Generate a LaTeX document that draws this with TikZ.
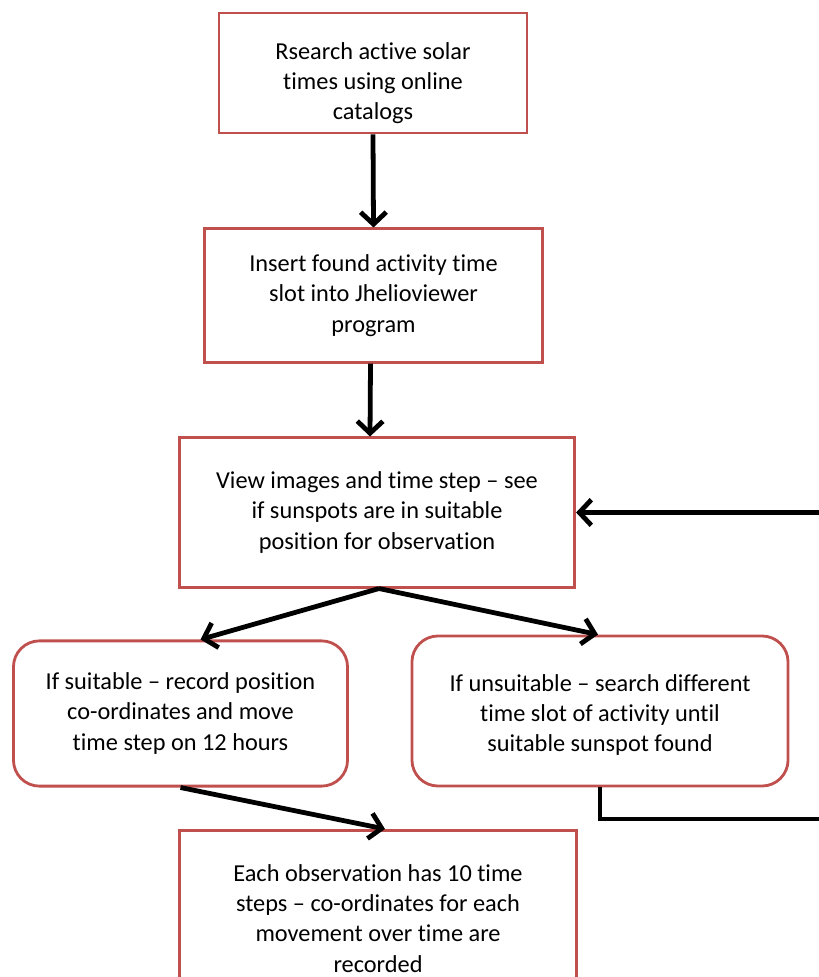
\documentclass[tikz,border=0pt]{standalone}
\usepackage{fontspec}
\setmainfont{Carlito}[Ligatures=NoCommon]
\definecolor{BoxRed}{RGB}{192,80,77}
\usetikzlibrary{positioning, arrows.meta, calc}

\tikzset{
  stepbox/.style={draw=BoxRed, line width=2pt, fill=white, align=center, inner sep=0pt,
    font=\fontsize{17.3}{21.5}\selectfont},
  roundbox/.style={stepbox, rounded corners=0.65cm},
  flow/.style={line width=3.4pt, -{Straight Barb[length=3mm,width=6.4mm]}}
}

\begin{document}
\begin{tikzpicture}[x=0.025cm,y=-0.025cm]
          \useasboundingbox (0,0) rectangle (818,977);

          % main chain
          \node[stepbox, minimum width=7.7cm, minimum height=3cm] (research) at (373,73)
            {\\[5pt]Rsearch active solar\\times using online\\catalogs};
          \node[stepbox, minimum width=8.43cm, minimum height=3.33cm] (insert) at (373.5,295.5)
            {Insert found activity time\\slot into Jhelioviewer\\program};
          \node[stepbox, minimum width=9.88cm, minimum height=3.73cm] (view) at (377,512.5)
            {View images and time step -- see\\if sunspots are in suitable\\position for observation};

          % the two outcomes
          \node[roundbox, minimum width=8.35cm, minimum height=3.63cm] (suitable) at (180.5,713.5)
            {If suitable -- record position\\co-ordinates and move\\time step on 12 hours};
          \node[roundbox, minimum width=9.4cm, minimum height=3.75cm] (unsuitable) at (600,711)
            {\\[-4pt]If unsuitable -- search different\\time slot of activity until\\suitable sunspot found};

          \node[stepbox, anchor=north, minimum width=9.93cm, minimum height=4.4cm] (record) at (378,829)
            {Each observation has 10 time\\steps -- co-ordinates for each\\movement over time are\\recorded};

          \draw[flow] (research.south) -- (insert.north);
          \draw[flow] ($(insert.south)+(-3,0)$) -- ($(view.north)+(-7,0)$);
          \draw[flow] ($(view.south)+(2,0)$) -- ($(suitable.north)+(20,0)$);
          \draw[flow] ($(view.south)+(2,0)$) -- ($(unsuitable.north)+(-2,0)$);
          \draw[flow] (suitable.south) -- ($(record.north)+(7,0)$);

          % loop back
          \coordinate (back) at (832,819);
          \draw[flow] (unsuitable.south) |- (back) |- (view.east);
        \end{tikzpicture}
\end{document}
